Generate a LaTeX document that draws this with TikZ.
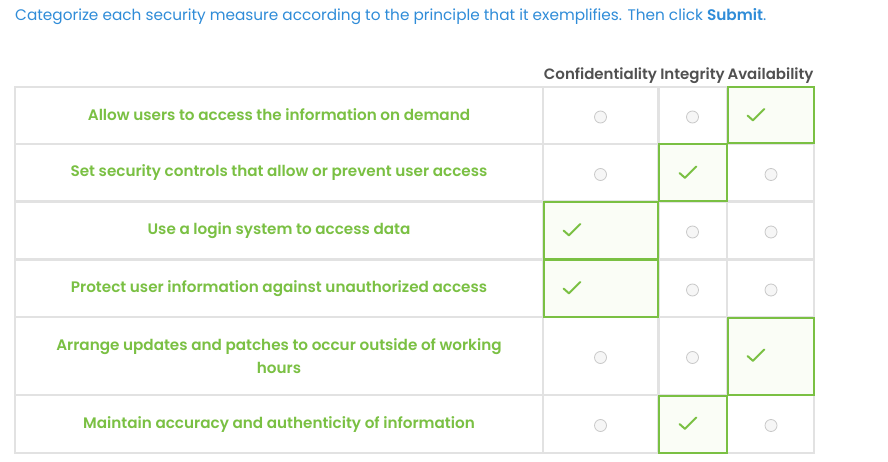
\documentclass[tikz,border=0pt]{standalone}
\usepackage{fontspec}
\setmainfont{Poppins}[BoldFont={Poppins SemiBold}]
\usetikzlibrary{calc}
\definecolor{promptblue}{HTML}{2F8CD8}
\definecolor{measuregreen}{HTML}{7AC043}
\definecolor{headgray}{HTML}{505050}
\definecolor{gridgray}{HTML}{E2E2E2}
\definecolor{radiogray}{HTML}{C8C8C8}
\definecolor{radiofill}{HTML}{F6F6F6}
\definecolor{pickfill}{HTML}{FAFDF6}
\tikzset{
  measure/.style={text=measuregreen, font=\fontsize{15.2}{23}\selectfont\bfseries, align=center, inner sep=0pt},
  header/.style={text=headgray, font=\fontsize{15}{16}\selectfont\bfseries, inner sep=0pt},
  cell/.style={draw=gridgray, line width=2.5pt},
  picked/.style={draw=measuregreen, fill=pickfill, line width=2pt},
  radio/.style={draw=radiogray, fill=radiofill, line width=0.8pt},
  tick/.style={draw=measuregreen, line width=2pt, line cap=round, line join=round},
}
% radio button in the middle of a cell
\def\radioat(#1,#2){\draw[radio] (#1,#2+1.5) circle (6);}
% check mark near the left side of a picked cell
\def\tickat(#1,#2){\draw[tick] (#1+20.5,#2) -- ++(5.4,4.8) -- ++(11.4,-11.3);}

\begin{document}
\begin{tikzpicture}[x=1pt, y=-1pt]
		%%%%% START %%%%%
		\useasboundingbox[fill=white] (0, 0) rectangle (888, 462);
		
		\node[anchor=west, text=promptblue, font=\fontsize{15.3}{18}\selectfont, inner sep=0pt] (prompt) at (15, 16.5) {Categorize each security measure according to the principle that it exemplifies. Then click \textbf{Submit}.};
		
		\node[header] (conf) at (600.5, 75.5) {Confidentiality};
		\node[header] (integ) at (692.5, 75.5) {Integrity};
		\node[header] (avail) at (770.5, 75.5) {Availability};
		
		% grid of cells
		\draw[cell] (15, 87) rectangle (814, 453);
		\draw[cell] (15, 144) -- (814, 144);
		\draw[cell] (15, 201.5) -- (814, 201.5);
		\draw[cell] (15, 259.5) -- (814, 259.5);
		\draw[cell] (15, 317) -- (814, 317);
		\draw[cell] (15, 395) -- (814, 395);
		\draw[cell] (543, 87) -- (543, 453);
		\draw[cell] (658.5, 87) -- (658.5, 453);
		\draw[cell] (727, 87) -- (727, 453);
		
		% measures
		\node[measure] (measure1) at (279, 115) {Allow users to access the information on demand};
		\node[measure] (measure2) at (279, 173) {Set security controls that allow or prevent user access};
		\node[measure] (measure3) at (279, 230.5) {Use a login system to access data};
		\node[measure] (measure4) at (279, 288.5) {Protect user information against unauthorized access};
		\node[measure] (measure5) at (279, 356) {Arrange updates and patches to occur outside of working\\hours};
		\node[measure] (measure6) at (279, 424.5) {Maintain accuracy and authenticity of information};
		
		% picked cells
		\draw[picked] (727.5, 87) rectangle (814, 143.5);
		\tickat(727, 115.5)
		\draw[picked] (659, 144.5) rectangle (726.5, 201);
		\tickat(659, 173)
		\draw[picked] (543.5, 202) rectangle (658, 259);
		\tickat(543, 230.5)
		\draw[picked] (543.5, 260) rectangle (658, 316.5);
		\tickat(543, 288.5)
		\draw[picked] (727.5, 317.5) rectangle (814, 394.5);
		\tickat(727, 356)
		\draw[picked] (659, 395.5) rectangle (726.5, 453);
		\tickat(659, 424)
		
		% empty radio buttons
		\radioat(600.5, 115.5)
		\radioat(692.5, 115.5)
		\radioat(600.5, 173)
		\radioat(771, 173)
		\radioat(692.5, 230.5)
		\radioat(771, 230.5)
		\radioat(692.5, 288.5)
		\radioat(771, 288.5)
		\radioat(600.5, 356)
		\radioat(692.5, 356)
		\radioat(600.5, 424)
		\radioat(771, 424)
		
		%%%%% END %%%%%
	\end{tikzpicture}
\end{document}
